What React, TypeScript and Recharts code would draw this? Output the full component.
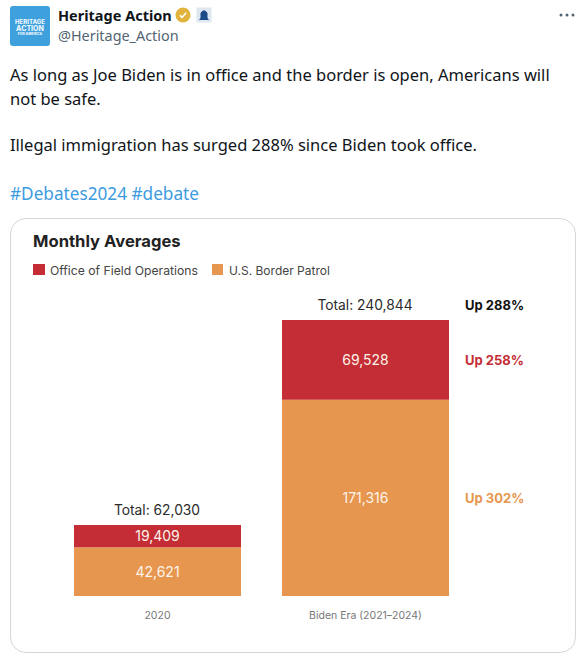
import { Bar, BarChart, LabelList, XAxis, YAxis } from "recharts";

const periods = ["2020", "Biden Era (2021–2024)"];
const fieldOperations = [19409, 69528];
const borderPatrol = [42621, 171316];
const totals = [62030, 240844];
const fieldChange = ["", "Up 258%"];
const patrolChange = ["", "Up 302%"];
const totalChange = ["", "Up 288%"];

const tweetLines = [
  "As long as Joe Biden is in office and the border is open, Americans will",
  "not be safe.",
];
const tweetSecond = "Illegal immigration has surged 288% since Biden took office.";
const hashtags = "#Debates2024 #debate";

const RED = "#c42d35";
const ORANGE = "#e6964e";
const TWEET_FONT = "'Noto Sans', sans-serif";
const CHART_FONT = "Inter, sans-serif";

const data = periods.map((period, i) => ({
  period,
  field: fieldOperations[i],
  patrol: borderPatrol[i],
  total: totals[i],
  fieldChange: fieldChange[i],
  patrolChange: patrolChange[i],
  totalChange: totalChange[i],
}));

function at(left: number, top: number, style: React.CSSProperties = {}): React.CSSProperties {
  return { position: "absolute", left, top, whiteSpace: "nowrap", ...style };
}

// Value printed in the middle of a segment
function SegmentValue({ x, y, width, height, value }: any) {
  return (
    <text
      x={x + width / 2}
      y={y + height / 2}
      dy="0.36em"
      textAnchor="middle"
      fill="#fdf3ea"
      fontFamily={CHART_FONT}
      fontSize={14}
    >
      {Number(value).toLocaleString("en-US")}
    </text>
  );
}

// "Total: n" above the stack
function TotalLabel({ x, y, width, value }: any) {
  return (
    <text
      x={x + width / 2 - 0.5}
      y={y - 10}
      textAnchor="middle"
      fill="#2b2b2b"
      fontFamily={CHART_FONT}
      fontSize={13.8}
    >
      Total: {Number(value).toLocaleString("en-US")}
    </text>
  );
}

function ChangeLabel({ x, y, width, height, value, color }: any) {
  if (!value) return null;
  return (
    <text
      x={x + width + 16}
      y={y + height / 2}
      dy="0.36em"
      fill={color}
      fontFamily={CHART_FONT}
      fontSize={13}
      fontWeight={700}
    >
      {value}
    </text>
  );
}

function TotalChangeLabel({ x, y, width, value }: any) {
  if (!value) return null;
  return (
    <text x={x + width + 16} y={y - 10} fill="#111" fontFamily={CHART_FONT} fontSize={13} fontWeight={700}>
      {value}
    </text>
  );
}

function TweetHeader() {
  return (
    <>
      <div style={at(10, 6, { width: 40, height: 40, background: "#3fa0de", borderRadius: 3, color: "#eaf5fc", fontFamily: "Inter, sans-serif", fontWeight: 800, textAlign: "center" })}>
        <div style={{ fontSize: 6, lineHeight: "7px", marginTop: 12 }}>HERITAGE</div>
        <div style={{ fontSize: 7, lineHeight: "7px" }}>ACTION</div>
        <div style={{ fontSize: 3.5, lineHeight: "5px" }}>FOR AMERICA</div>
      </div>
      <div style={at(58, 5, { fontFamily: TWEET_FONT, fontWeight: 700, fontSize: 14.5, lineHeight: "20px", color: "#0f1419" })}>
        Heritage Action
      </div>
      <svg style={at(175, 7)} width={16} height={16} viewBox="0 0 16 16">
        <circle cx={8} cy={8} r={7.5} fill="#e2b33c" />
        <path d="M4.8 8.2 L7 10.4 L11.2 5.8" fill="none" stroke="#fff" strokeWidth={1.6} />
      </svg>
      <svg style={at(196, 7)} width={16} height={16} viewBox="0 0 16 16">
        <rect x={0.5} y={0.5} width={15} height={15} fill="#dfe8f0" />
        <path d="M3 13 L4.5 11 V6 Q8 0.5 11.5 6 V11 L13 13 Z" fill="#1c4a86" />
      </svg>
      <div style={at(58, 26, { fontFamily: TWEET_FONT, fontSize: 14.4, lineHeight: "20px", color: "#536471" })}>
        @Heritage_Action
      </div>
      <svg style={at(558, 12)} width={18} height={6} viewBox="0 0 18 6">
        <circle cx={3} cy={3} r={1.5} fill="#536471" />
        <circle cx={9} cy={3} r={1.5} fill="#536471" />
        <circle cx={15} cy={3} r={1.5} fill="#536471" />
      </svg>
    </>
  );
}

function TweetText() {
  const line: React.CSSProperties = { fontFamily: TWEET_FONT, fontSize: 16.5, lineHeight: "24px", color: "#0f1419" };
  return (
    <>
      <div style={at(10, 63, line)}>{tweetLines[0]}</div>
      <div style={at(10, 87, line)}>{tweetLines[1]}</div>
      <div style={at(10, 133, line)}>{tweetSecond}</div>
      <div style={at(10, 182, { ...line, fontSize: 17.2, color: "#3d9be0" })}>{hashtags}</div>
    </>
  );
}

export default function App() {
  return (
    <div style={{ position: "absolute", left: 0, top: 0, width: 586, height: 658, background: "#fff", overflow: "hidden" }}>
      <TweetHeader />
      <TweetText />
      <div style={at(10, 218, { width: 564, height: 433, border: "1px solid #d4d8da", borderRadius: 16 })} />
      <div style={at(33, 231, { fontFamily: CHART_FONT, fontWeight: 700, fontSize: 16.6, lineHeight: "20px", color: "#222" })}>
        Monthly Averages
      </div>
      <div style={at(33, 264, { width: 12, height: 11, background: RED })} />
      <div style={at(50, 262, { fontFamily: CHART_FONT, fontSize: 12.2, lineHeight: "18px", color: "#444" })}>
        Office of Field Operations
      </div>
      <div style={at(212, 264, { width: 11, height: 11, background: ORANGE })} />
      <div style={at(229, 262, { fontFamily: CHART_FONT, fontSize: 12, lineHeight: "18px", color: "#444" })}>
        U.S. Border Patrol
      </div>
      <div style={at(0, 0)}>
        <BarChart
          width={586}
          height={658}
          data={data}
          barCategoryGap={20.5}
          margin={{ top: 320, right: 116.5, bottom: 0, left: 53.5 }}
        >
          <YAxis hide domain={[0, 240844]} />
          <XAxis
            dataKey="period"
            interval={0}
            tickLine={false}
            axisLine={false}
            height={62}
            tickMargin={10}
            tick={{ fill: "#777", fontSize: 10.5, fontFamily: CHART_FONT }}
          />
          <Bar dataKey="patrol" stackId="a" fill={ORANGE} isAnimationActive={false}>
            <LabelList dataKey="patrol" content={<SegmentValue />} />
            <LabelList dataKey="patrolChange" content={<ChangeLabel color={ORANGE} />} />
          </Bar>
          <Bar dataKey="field" stackId="a" fill={RED} isAnimationActive={false}>
            <LabelList dataKey="field" content={<SegmentValue />} />
            <LabelList dataKey="fieldChange" content={<ChangeLabel color={RED} />} />
            <LabelList dataKey="total" content={<TotalLabel />} />
            <LabelList dataKey="totalChange" content={<TotalChangeLabel />} />
          </Bar>
        </BarChart>
      </div>
    </div>
  );
}
